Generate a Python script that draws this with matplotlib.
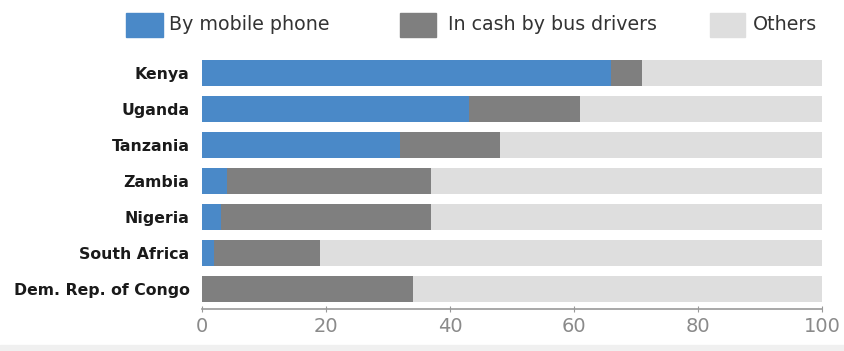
import matplotlib
matplotlib.use("Agg")
import matplotlib.pyplot as plt
from matplotlib.patches import Rectangle

countries = ["Kenya", "Uganda", "Tanzania", "Zambia", "Nigeria", "South Africa", "Dem. Rep. of Congo"]
mobile = [66, 43, 32, 4, 3, 2, 0]
cash = [5, 18, 16, 33, 34, 17, 34]
others = [29, 39, 52, 63, 63, 81, 66]
series_names = ["By mobile phone", "In cash by bus drivers", "Others"]
colors = ["#4a89c8", "#7f7f7f", "#dedede"]
xticks = [0, 20, 40, 60, 80, 100]

fam = ["DejaVu Sans"]

fig = plt.figure(figsize=(8.44, 3.51), dpi=100)
fig.patch.set_facecolor("white")
fig.add_artist(Rectangle((0, 0), 1, 6/351, transform=fig.transFigure, color="#f0f0f0", zorder=0))

ax = fig.add_axes([202/844, 1 - 309/351, 620/844, 254/351])
n = len(countries)
ypos = list(range(n - 1, -1, -1))
left = [0] * n
for vals, name, c in zip([mobile, cash, others], series_names, colors):
    ax.barh(ypos, vals, left=left, height=0.7, color=c, label=name, linewidth=0)
    left = [l + v for l, v in zip(left, vals)]

ax.set_xlim(0, 100)
ax.set_ylim(-0.556, n - 0.5)
ax.set_yticks(ypos)
ax.set_yticklabels(countries, fontsize=11.3, color="#1a1a1a", family=fam, fontweight="bold")
ax.tick_params(axis="y", length=0, pad=9)
ax.set_xticks(xticks)
ax.set_xticklabels([str(t) for t in xticks], fontsize=14, color="#8a8a8a")
ax.tick_params(axis="x", direction="inout", length=5, color="#999999", pad=3)
for s in ["top", "right", "left"]:
    ax.spines[s].set_visible(False)
ax.spines["bottom"].set_color("#999999")
ax.spines["bottom"].set_linewidth(1.2)

leg = [(126, 163, 169, "By mobile phone"), (400, 436, 448, "In cash by bus drivers"), (710, 745, 753, "Others")]
for (p0, p1, tx, txt), c in zip(leg, colors):
    fig.add_artist(Rectangle((p0/844, 1 - 37/351), (p1 - p0)/844, 24/351,
                             transform=fig.transFigure, color=c))
    fig.text(tx/844, 1 - 25/351, txt, fontsize=13.7, color="#333333",
             va="center", ha="left", family=fam)

fig.savefig("out.png", dpi=100)
